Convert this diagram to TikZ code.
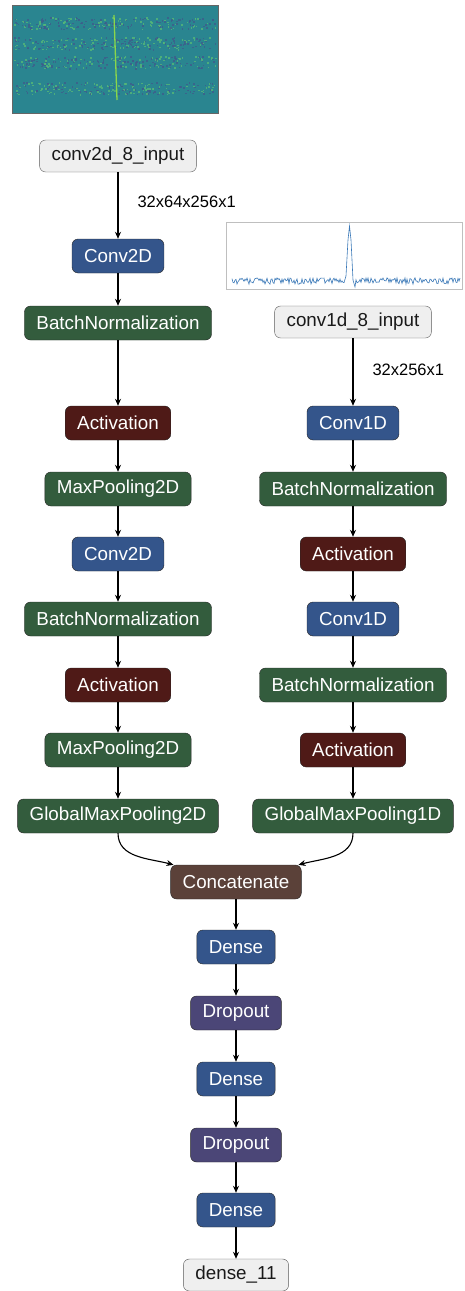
\documentclass[tikz,border=0pt]{standalone}
\usepackage{fontspec}
\usetikzlibrary{arrows.meta}
\setmainfont{Liberation Sans}
\definecolor{convblue}{HTML}{34558B}
\definecolor{bngreen}{HTML}{335C3D}
\definecolor{actred}{HTML}{4F1A17}
\definecolor{catbrown}{HTML}{5B4139}
\definecolor{droppurple}{HTML}{4B4677}
\definecolor{inpgray}{HTML}{EFEFEF}
\definecolor{vmid}{HTML}{2A8590}
\definecolor{vdark}{HTML}{3E5C8C}
\definecolor{vlight}{HTML}{55B878}
\definecolor{vline}{HTML}{8BD64A}
\definecolor{plotblue}{HTML}{3A78B8}
\begin{document}
\begin{tikzpicture}[x=1pt, y=-1pt, >={Stealth[length=7pt, width=6pt]}]
        \tikzstyle{layer}=[draw=black!85, rounded corners=6pt, minimum height=34pt, inner xsep=12pt, text=white, font=\fontsize{18.8}{20}\selectfont]
        \tikzstyle{inp}=[layer, draw=black!65, fill=inpgray, text=black!90, minimum height=32pt]
        \tikzstyle{dims}=[font=\fontsize{16.5}{18}\selectfont, anchor=west]
        \tikzstyle{flow}=[->, line width=1.1pt]
        \useasboundingbox (0,0) rectangle (464,1291);

        % spectrogram of the 2D input
        \fill[vmid] (12,5) rectangle (218,113);
        \pgfmathsetseed{7}
        \foreach \by in {23,43,62,88}{
          \foreach \i in {1,...,220}{
            \pgfmathsetmacro\px{14+201*rnd}
            \pgfmathsetmacro\py{\by+6*rand}
            \pgfmathsetmacro\pc{rnd}
            \ifdim\pc pt<0.55pt \def\col{vdark}\else\def\col{vlight}\fi
            \fill[\col, opacity=0.8] (\px,\py) rectangle ++(1.6,1.6);
          }
        }
        \draw[vline, line width=1.3pt] (114,15) -- (117,100);
        \draw[black!60, line width=0.6pt] (12,5) rectangle (218,113);

        % signal of the 1D input
        \draw[black!25, fill=white] (226,222) rectangle (462,289);
        \draw[plotblue, line width=0.6pt] plot[domain=232:344, samples=113] (\x,{281+3.2*rand})
          -- (346,276) -- (348,240) -- (349.5,226) -- (351,240) -- (353,280) -- (355,287)
          -- plot[domain=356:460, samples=105] (\x,{281+3.2*rand});

        % 2D branch
        \node[inp](in2d) at (118,156){conv2d\_8\_input};
        \node[layer, fill=convblue](c2a) at (118,256){Conv2D};
        \node[layer, fill=bngreen](bn2a) at (118,323){BatchNormalization};
        \node[layer, fill=actred](act2a) at (118,423){Activation};
        \node[layer, fill=bngreen](mp2a) at (118,489){MaxPooling2D};
        \node[layer, fill=convblue](c2b) at (118,554){Conv2D};
        \node[layer, fill=bngreen](bn2b) at (118,619){BatchNormalization};
        \node[layer, fill=actred](act2b) at (118,685){Activation};
        \node[layer, fill=bngreen](mp2b) at (118,750){MaxPooling2D};
        \node[layer, fill=bngreen](gmp2) at (118,816){GlobalMaxPooling2D};

        % 1D branch
        \node[inp](in1d) at (353,322){conv1d\_8\_input};
        \node[layer, fill=convblue](c1a) at (353,423){Conv1D};
        \node[layer, fill=bngreen](bn1a) at (353,489){BatchNormalization};
        \node[layer, fill=actred](act1a) at (353,554){Activation};
        \node[layer, fill=convblue](c1b) at (353,619){Conv1D};
        \node[layer, fill=bngreen](bn1b) at (353,685){BatchNormalization};
        \node[layer, fill=actred](act1b) at (353,750){Activation};
        \node[layer, fill=bngreen](gmp1) at (353,816){GlobalMaxPooling1D};

        % head
        \node[layer, fill=catbrown](cat) at (236,882){Concatenate};
        \node[layer, fill=convblue](d1) at (236,947){Dense};
        \node[layer, fill=droppurple](do1) at (236,1013){Dropout};
        \node[layer, fill=convblue](d2) at (236,1079){Dense};
        \node[layer, fill=droppurple](do2) at (236,1145){Dropout};
        \node[layer, fill=convblue](d3) at (236,1210){Dense};
        \node[inp](out) at (236,1275){dense\_11};

        \node[dims](s2d) at (134,202){32x64x256x1};
        \node[dims](s1d) at (369,370){32x256x1};

        \draw[flow] (in2d) -- (c2a);
        \draw[flow] (c2a) -- (bn2a);
        \draw[flow] (bn2a) -- (act2a);
        \draw[flow] (act2a) -- (mp2a);
        \draw[flow] (mp2a) -- (c2b);
        \draw[flow] (c2b) -- (bn2b);
        \draw[flow] (bn2b) -- (act2b);
        \draw[flow] (act2b) -- (mp2b);
        \draw[flow] (mp2b) -- (gmp2);

        \draw[flow] (in1d) -- (c1a);
        \draw[flow] (c1a) -- (bn1a);
        \draw[flow] (bn1a) -- (act1a);
        \draw[flow] (act1a) -- (c1b);
        \draw[flow] (c1b) -- (bn1b);
        \draw[flow] (bn1b) -- (act1b);
        \draw[flow] (act1b) -- (gmp1);

        \draw[flow] (gmp2.south) to[out=-90, in=165] ([xshift=3pt]cat.north west);
        \draw[flow] (gmp1.south) to[out=-90, in=15] ([xshift=-3pt]cat.north east);
        \draw[flow] (cat) -- (d1);
        \draw[flow] (d1) -- (do1);
        \draw[flow] (do1) -- (d2);
        \draw[flow] (d2) -- (do2);
        \draw[flow] (do2) -- (d3);
        \draw[flow] (d3) -- (out);

        \end{tikzpicture}
\end{document}
